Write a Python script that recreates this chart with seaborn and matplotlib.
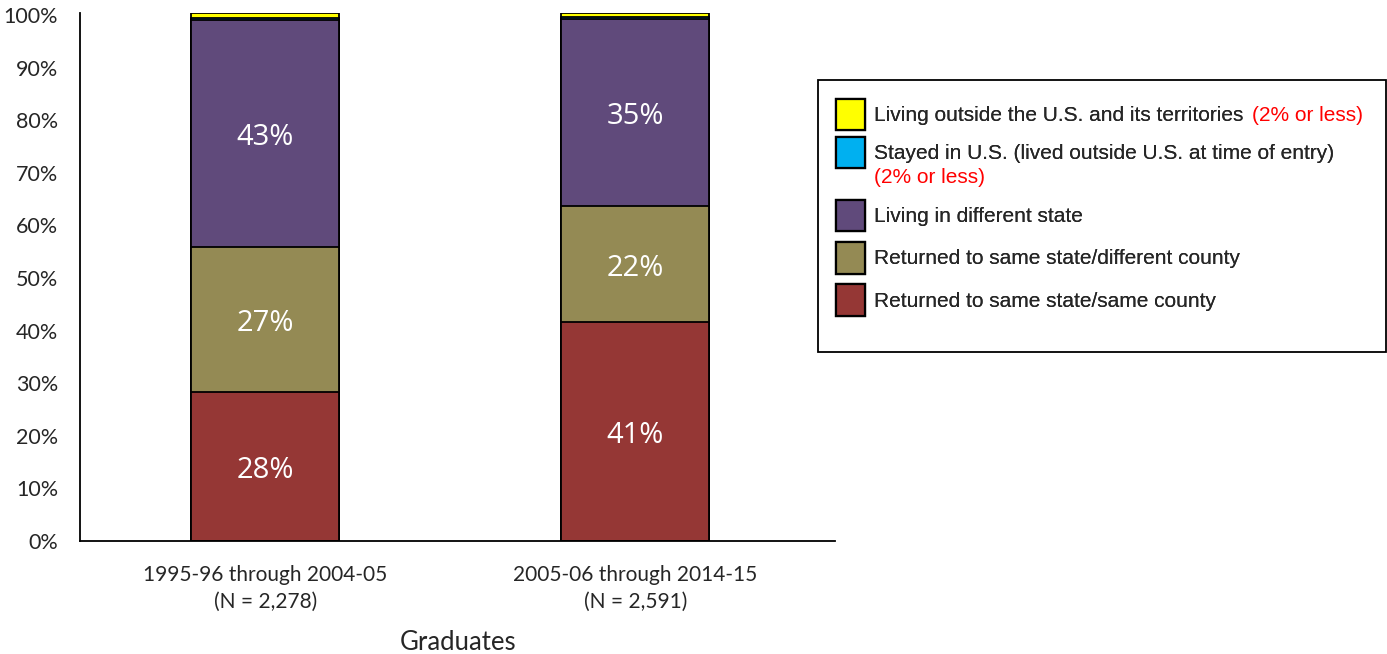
import matplotlib
matplotlib.use("Agg")
import matplotlib.pyplot as plt
import seaborn as sns
import numpy as np
import pandas as pd
from matplotlib.patches import Patch, Rectangle

categories = ["1995-96 through 2004-05\n(N = 2,278)", "2005-06 through 2014-15\n(N = 2,591)"]
series_names = [
    "Returned to same state/same county",
    "Returned to same state/different county",
    "Living in different state",
    "Stayed in U.S. (lived outside U.S. at time of entry)",
    "Living outside the U.S. and its territories",
]
same_county = [28.3, 41.6]
diff_county = [27.6, 22.1]
diff_state = [43.1, 35.5]
stayed_us = [0.5, 0.5]
outside_us = [1.0, 0.8]
bar_labels = [["28%", "41%"], ["27%", "22%"], ["43%", "35%"]]
colors = ["#953735", "#948A54", "#604A7B", "#00B0F0", "#FFFF00"]

sns.set_theme(style="white")
plt.rcParams["font.family"] = ["Lato", "DejaVu Sans"]

fig = plt.figure(figsize=(13.87, 6.54), dpi=100)
ax = fig.add_axes([0.058, 1 - 541 / 654, 0.544, 528.5 / 654])

layers = [same_county, diff_county, diff_state, stayed_us, outside_us]
cum = np.cumsum(np.array(layers), axis=0)

for i in range(len(layers) - 1, -1, -1):
    df = pd.DataFrame({"cat": categories, "val": cum[i]})
    sns.barplot(data=df, x="cat", y="val", color=colors[i], width=0.40,
                edgecolor="black", linewidth=1.3, saturation=1, ax=ax)

# segment labels
for i in range(3):
    for j in range(2):
        bottom = cum[i - 1][j] if i > 0 else 0
        mid = bottom + layers[i][j] / 2
        ax.annotate(bar_labels[i][j], (j, mid), xytext=(0, -3), textcoords="offset points",
                    ha="center", va="center", color="white", fontsize=21,
                    family=["Open Sans", "DejaVu Sans"])

ax.set_ylim(0, 100.5)
ax.set_xlim(-0.5, 1.54)
ax.set_yticks(np.arange(0, 101, 10))
ax.set_yticklabels([f"{v}%" for v in range(0, 101, 10)], fontsize=15.5)
ax.tick_params(axis="x", labelsize=15, pad=17, length=0)
ax.tick_params(axis="y", length=0, pad=16)
for lab in ax.get_xticklabels():
    lab.set_linespacing(1.45)
ax.set_xlabel("Graduates", fontsize=18.5, labelpad=13)
ax.set_ylabel("")
for s in ["top", "right"]:
    ax.spines[s].set_visible(False)
for s in ["left", "bottom"]:
    ax.spines[s].set_color("black")
    ax.spines[s].set_linewidth(1.3)

# legend
frame = Rectangle((818 / 1387, 1 - 352 / 654), 568 / 1387, 272 / 654,
                  transform=fig.transFigure, facecolor="white",
                  edgecolor="black", linewidth=1.3)
fig.patches.append(frame)
lfont = {"family": ["Liberation Sans", "DejaVu Sans"], "size": 15}


def make_legend(keys, top_px, spacing):
    handles = [Patch(facecolor=colors[k], edgecolor="black", linewidth=1.6) for k in keys]
    labels = [series_names[k] for k in keys]
    lg = fig.legend(handles, labels, loc="upper left",
                    bbox_to_anchor=(817 / 1387, 1 - top_px / 654),
                    frameon=False, handlelength=1.4, handleheight=1.95,
                    handletextpad=0.45, labelspacing=spacing, prop=lfont)
    fig.add_artist(lg)
    return lg


legA = make_legend([4, 3], 80, 0.3)
legB = make_legend([2, 1, 0], 181, 0.52)

fig.canvas.draw()
inv = fig.transFigure.inverted()
texts = legA.get_texts()
bb0 = texts[0].get_window_extent()
x0, y0 = inv.transform((bb0.x1, (bb0.y0 + bb0.y1) / 2))
fig.text(x0 + 8 / 1387, y0, "(2% or less)", color="red", ha="left", va="center",
         fontsize=15, family=["Liberation Sans", "DejaVu Sans"])
bb1 = texts[1].get_window_extent()
x1, y1 = inv.transform((bb1.x0, bb1.y0))
fig.text(x1, y1 - 5 / 654, "(2% or less)", color="red", ha="left", va="top",
         fontsize=15, family=["Liberation Sans", "DejaVu Sans"])

fig.savefig("out.png", dpi=100)
